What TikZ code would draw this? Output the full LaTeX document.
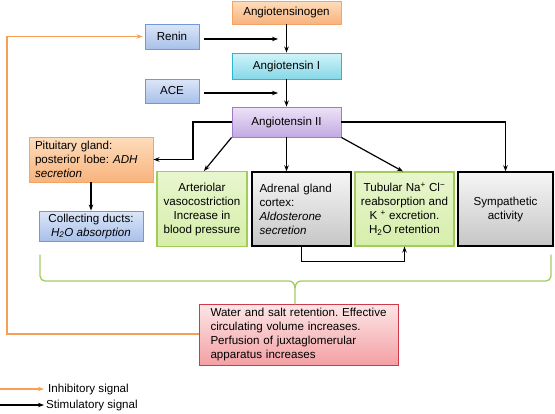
\documentclass[tikz,border=0pt]{standalone}
\usepackage{fontspec}
\setmainfont{Liberation Sans}
\usetikzlibrary{arrows.meta,calc}
\definecolor{orB}{HTML}{F2A566}\definecolor{orT}{HTML}{FDDDBC}\definecolor{orBt}{HTML}{F8B37C}
\definecolor{blB}{HTML}{6E9BD8}\definecolor{blT}{HTML}{DCE6F8}\definecolor{blBt}{HTML}{A8C0EA}
\definecolor{cyB}{HTML}{30B5D0}\definecolor{cyT}{HTML}{D2F3F8}\definecolor{cyBt}{HTML}{86D8E8}
\definecolor{puB}{HTML}{9C7BC9}\definecolor{puT}{HTML}{EDE3F7}\definecolor{puBt}{HTML}{C3A9E2}
\definecolor{grB}{HTML}{A0CC5A}\definecolor{grT}{HTML}{E8F6CE}\definecolor{grBt}{HTML}{D6EEAA}
\definecolor{gyT}{HTML}{F6F6F6}\definecolor{gyBt}{HTML}{C6C6C6}
\definecolor{rdB}{HTML}{D0394A}\definecolor{rdT}{HTML}{FDE6E6}\definecolor{rdBt}{HTML}{F3A0A4}
\definecolor{orLine}{HTML}{F5A055}\definecolor{brace}{HTML}{A3CC5E}
\begin{document}
\frenchspacing
\begin{tikzpicture}[x=1pt,y=-1pt,
  box/.style={inner sep=0pt,font=\fontsize{11.6}{14}\selectfont\frenchspacing,line width=0.9pt},
  orbox/.style={box,draw=orB,top color=orT,bottom color=orBt},
  blbox/.style={box,draw=blB,top color=blT,bottom color=blBt},
  cybox/.style={box,draw=cyB,top color=cyT,bottom color=cyBt},
  pubox/.style={box,draw=puB,top color=puT,bottom color=puBt},
  grbox/.style={box,draw=grB,top color=grT,bottom color=grBt,line width=1.1pt},
  gybox/.style={box,draw=black,top color=gyT,bottom color=gyBt,line width=1.4pt},
  rdbox/.style={box,draw=rdB,top color=rdT,bottom color=rdBt},
  arr/.style={line width=1.2pt,-{Stealth[length=6pt,width=4.5pt]}},
  oarr/.style={line width=1.4pt,draw=orLine,-{Stealth[length=6pt,width=4.5pt]}},
  lbl/.style={font=\fontsize{11.6}{14}\selectfont,inner sep=0pt,anchor=west}]
\useasboundingbox (0,0) rectangle (555,413);
% central column
\node[orbox,minimum width=109pt,minimum height=23pt] (agen) at (286.5,12.5) {Angiotensinogen};
\node[cybox,minimum width=109pt,minimum height=26pt] (ang1) at (286.5,66) {Angiotensin I};
\node[pubox,minimum width=109pt,minimum height=30pt] (ang2) at (286.5,122) {Angiotensin II};
\node[blbox,minimum width=54pt,minimum height=25pt] (renin) at (172,36.5) {Renin};
\node[blbox,minimum width=54pt,minimum height=24pt] (ace) at (172,91) {ACE};
% left column
\node[orbox,minimum width=124pt,minimum height=45pt,align=left,text width=112pt] (pit) at (91,159.5)
  {Pituitary gland:\\posterior lobe: \textit{ADH}\\\textit{secretion}};
\node[blbox,minimum width=104pt,minimum height=30pt,align=center] (coll) at (91,226)
  {Collecting ducts:\\\textit{H\textsubscript{2}O absorption}};
% row of effects
\node[grbox,minimum width=90pt,minimum height=75pt,align=center] (art) at (202,209)
  {Arteriolar\\vasocostriction\\Increase in\\blood pressure};
\node[gybox,minimum width=99pt,minimum height=74pt,align=left,text width=84pt] (adr) at (301.5,209)
  {Adrenal gland\\cortex:\\\textit{Aldosterone}\\\textit{secretion}};
\node[grbox,minimum width=99pt,minimum height=74pt,align=center] (tub) at (404.5,209)
  {Tubular Na\textsuperscript{+} Cl\textsuperscript{−}\\reabsorption and\\K \textsuperscript{+} excretion.\\H\textsubscript{2}O retention};
\node[gybox,minimum width=95pt,minimum height=74pt,align=center] (sym) at (505.5,209)
  {Sympathetic\\activity};
% result
\node[rdbox,minimum width=199pt,minimum height=61pt,align=left,text width=188pt] (res) at (298.5,334.5)
  {\hspace*{6pt}Water and salt retention. Effective\\\hspace*{6pt}circulating volume increases.\\\hspace*{6pt}Perfusion of juxtaglomerular\\\hspace*{6pt}apparatus increases};
% coordinates
\coordinate (rj) at (278,39);
\coordinate (aj) at (278,93);
\coordinate (lx) at (193,122);
\coordinate (rx) at (505.5,122);
\coordinate (ol) at (7,334);
\coordinate (ot) at (7,36.5);
% connectors
\draw[arr] (agen) -- (ang1);
\draw[arr] (ang1) -- (ang2);
\draw[arr] ([xshift=5pt,yshift=-2.5pt]renin.east) -- (rj);
\draw[arr] ([xshift=5pt,yshift=-2pt]ace.east) -- (aj);
\draw[arr] (ang2.west) -- (lx) |- (pit.east);
\draw[arr] (pit.south) -- (coll.north);
\draw[arr] (ang2.south west) -- ([xshift=2pt]art.north);
\draw[arr] (ang2.south) -- (ang2.south |- adr.north);
\draw[arr] (ang2.south east) -- ([xshift=-1.5pt]tub.north);
\draw[arr] (ang2.east) -- (rx) -- (sym.north);
\draw[arr] (adr.south) -- ++(0,15) -| (tub.south);
% brace
\draw[brace,line width=1.3pt,line cap=round]
  (40,255) -- (40,276) to[out=270,in=180] (45,281) -- (289,281) to[out=0,in=90] (295,288) -- (295,304);
\draw[brace,line width=1.3pt,line cap=round]
  (551,255) -- (551,276) to[out=270,in=0] (546,281) -- (301,281) to[out=180,in=90] (295,288);
% inhibitory feedback
\draw[oarr] (res.west |- ol) -- (ol) -- (ot) -- ([xshift=-2pt]renin.west);
% legend
\node[lbl] (linh) at (48,389) {Inhibitory signal};
\node[lbl] (lsti) at (46,405) {Stimulatory signal};
\coordinate (li0) at (0,389);
\coordinate (ls0) at (0,405);
\draw[line width=1.2pt,draw=orLine,-{Stealth[length=6pt,width=4.5pt]}] (li0) -- ([xshift=-4pt]linh.west);
\draw[line width=1.2pt,-{Stealth[length=6pt,width=4.5pt]}] (ls0) -- ([xshift=-2pt]lsti.west);
\end{tikzpicture}
\end{document}
